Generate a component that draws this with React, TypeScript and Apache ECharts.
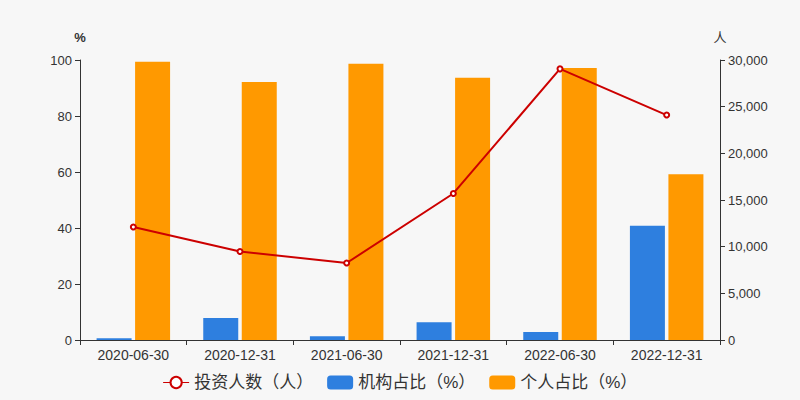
import React, { useEffect, useRef } from "react";
import * as echarts from "echarts";

const categories = ["2020-06-30", "2020-12-31", "2021-06-30", "2021-12-31", "2022-06-30", "2022-12-31"];
const institutionPct = [0.6, 7.9, 1.3, 6.3, 2.9, 40.8];
const individualPct = [99.4, 92.1, 98.7, 93.7, 97.1, 59.2];
const investors = [12100, 9480, 8250, 15700, 29050, 24100];

export default function App() {
  const ref = useRef<HTMLDivElement>(null);
  useEffect(() => {
    const chart = echarts.init(ref.current!, null, { renderer: "svg" });
    const axisColor = "#333";
    chart.setOption({
      animation: false,
      backgroundColor: "#f7f7f7",
      textStyle: { fontFamily: "Arial, 'Liberation Sans', 'Noto Sans CJK SC', sans-serif" },
      grid: { left: 80, right: 80, top: 60, bottom: 60 },
      legend: {
        bottom: 4,
        left: "center",
        itemWidth: 26,
        itemHeight: 14,
        itemGap: 14,
        textStyle: { fontSize: 17, color: "#333" },
        data: [
          {
            name: "投资人数（人）",
            lineStyle: { width: 1 },
            itemStyle: { borderWidth: 1 },
          },
          { name: "机构占比（%）", icon: "roundRect" },
          { name: "个人占比（%）", icon: "roundRect" },
        ],
      },
      xAxis: {
        type: "category",
        data: categories,
        axisLine: { lineStyle: { color: axisColor } },
        axisTick: { show: true, alignWithLabel: false, lineStyle: { color: axisColor } },
        axisLabel: { color: "#333", fontSize: 14 },
      },
      yAxis: [
        {
          type: "value",
          name: "%",
          min: 0,
          max: 100,
          interval: 20,
          nameTextStyle: { color: "#333", fontSize: 13, fontWeight: "bold", align: "center" },
          nameGap: 16,
          axisLine: { show: true, lineStyle: { color: axisColor } },
          axisTick: { show: true, lineStyle: { color: axisColor } },
          axisLabel: { color: "#333", fontSize: 13 },
          splitLine: { show: false },
        },
        {
          type: "value",
          name: "人",
          min: 0,
          max: 30000,
          interval: 5000,
          position: "right",
          nameTextStyle: { color: "#333", fontSize: 13, align: "center" },
          nameGap: 16,
          axisLine: { show: true, lineStyle: { color: axisColor } },
          axisTick: { show: true, lineStyle: { color: axisColor } },
          axisLabel: {
            color: "#333",
            fontSize: 13,
            formatter: (v: number) => v.toLocaleString("en-US"),
          },
          splitLine: { show: false },
        },
      ],
      series: [
        {
          name: "投资人数（人）",
          type: "line",
          yAxisIndex: 1,
          data: investors,
          symbol: "emptyCircle",
          symbolSize: 5,
          itemStyle: { color: "#cc0000" },
          lineStyle: { color: "#cc0000", width: 2 },
          z: 5,
        },
        {
          name: "机构占比（%）",
          type: "bar",
          data: institutionPct,
          barWidth: 35,
          barGap: "10%",
          itemStyle: { color: "#2e7fdf" },
        },
        {
          name: "个人占比（%）",
          type: "bar",
          data: individualPct,
          barWidth: 35,
          itemStyle: { color: "#ff9900" },
        },
      ],
    });
    return () => chart.dispose();
  }, []);
  return <div ref={ref} style={{ width: 800, height: 400, position: "absolute", left: 0, top: 0 }} />;
}
